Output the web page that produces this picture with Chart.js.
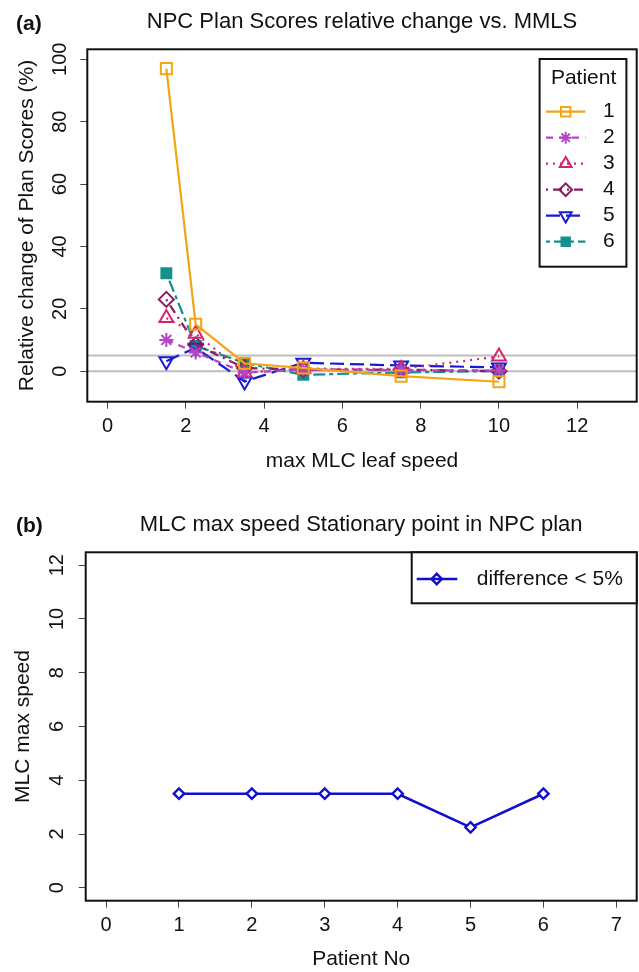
<!DOCTYPE html>
<html><head><meta charset="utf-8">
<script src="https://cdn.jsdelivr.net/npm/chart.js@4.4.1/dist/chart.umd.min.js"></script>
<style>
html,body{margin:0;padding:0;background:#fff;}
.panel{width:639px;height:486px;position:relative;}
canvas{display:block;}
</style></head><body>
<div class="panel"><canvas id="c1"></canvas></div>
<div class="panel"><canvas id="c2"></canvas></div>
<script>
// ---------- data (panel a) ----------
const maxLeafSpeed = [1.5, 2.25, 3.5, 5, 7.5, 10];
const patient1 = [97, 15, 2.5, 1, -1.6, -3.4];
const patient2 = [10, 6, -0.5, 0.5, 0.3, 0.2];
const patient3 = [17, 12, -0.5, 0.8, 0.7, 4.7];
const patient4 = [23, 8.5, 1, 0.5, 0.5, 0];
const patient5 = [3.2, 7.5, -3.3, 2.7, 1.8, 1.2];
const patient6 = [31.4, 8.1, 2.6, -1.2, -0.4, 0];
const patientNames = ['1', '2', '3', '4', '5', '6'];
const xTicksA = [0, 2, 4, 6, 8, 10, 12];
const yTicksA = [0, 20, 40, 60, 80, 100];
const refLinesA = [0, 5];
// ---------- data (panel b) ----------
const patientNo = [1, 2, 3, 4, 5, 6];
const stationarySpeed = [3.5, 3.5, 3.5, 3.5, 2.25, 3.5];
const xTicksB = [0, 1, 2, 3, 4, 5, 6, 7];
const yTicksB = [0, 2, 4, 6, 8, 10, 12];

const FONT = '"Liberation Sans", Arial, Helvetica, sans-serif';
const TXT = '#111';

const seriesA = [patient1, patient2, patient3, patient4, patient5, patient6];
const stylesA = [
  {color:'#F2A516', dash:[], pointStyle:'rect', radius:7.8, rot:0, fill:false},
  {color:'#B346C4', dash:[7,6], pointStyle:'star', radius:7, rot:0, fill:false},
  {color:'#D6246E', dash:[2,5], pointStyle:'triangle', radius:8, rot:0, fill:false},
  {color:'#8B1C62', dash:[2,5,9,5], pointStyle:'rectRot', radius:7.5, rot:0, fill:false},
  {color:'#1A1AD2', dash:[14,6], pointStyle:'triangle', radius:8, rot:180, fill:false},
  {color:'#14918D', dash:[4,4,12,4], pointStyle:'rect', radius:7, rot:0, fill:true}
];

function drawMarker(ctx, st, x, y, bw) {
  ctx.save();
  ctx.setLineDash([]);
  ctx.lineWidth = bw;
  ctx.strokeStyle = st.color;
  ctx.fillStyle = st.fill ? st.color : 'rgba(0,0,0,0)';
  Chart.helpers.drawPoint(ctx, {pointStyle: st.pointStyle, radius: st.radius, rotation: st.rot, borderWidth: bw}, x, y);
  ctx.restore();
}

const framePlugin = {
  id: 'frame',
  beforeDatasetsDraw(chart, args, o) {
    const ctx = chart.ctx, a = chart.chartArea, ys = chart.scales.y;
    ctx.save();
    ctx.strokeStyle = '#BEBEBE'; ctx.lineWidth = 2;
    (o.refLines || []).forEach(v => {
      const py = ys.getPixelForValue(v);
      ctx.beginPath(); ctx.moveTo(a.left, py); ctx.lineTo(a.right, py); ctx.stroke();
    });
    ctx.restore();
  },
  afterDraw(chart, args, o) {
    const ctx = chart.ctx, a = chart.chartArea, ys = chart.scales.y;
    ctx.save();
    ctx.strokeStyle = '#111'; ctx.lineWidth = 2;
    ctx.strokeRect(a.left, a.top, a.right - a.left, a.bottom - a.top);
    ctx.fillStyle = TXT;
    ctx.font = '20px ' + FONT;
    ctx.textAlign = 'center'; ctx.textBaseline = 'middle';
    ys.ticks.forEach(t => {
      const py = ys.getPixelForValue(t.value);
      ctx.save(); ctx.translate(a.left - o.yTickOff, py); ctx.rotate(-Math.PI/2);
      ctx.fillText(String(t.value), 0, 0); ctx.restore();
    });
    ctx.font = '21px ' + FONT;
    ctx.save(); ctx.translate(a.left - o.yTitleOff, (a.top + a.bottom)/2); ctx.rotate(-Math.PI/2);
    ctx.fillText(o.yTitle, 0, 0); ctx.restore();
    ctx.font = '22px ' + FONT;
    ctx.fillText(o.title, (a.left + a.right)/2, o.titleY);
    ctx.font = 'bold 21px ' + FONT;
    ctx.textAlign = 'left';
    ctx.fillText(o.tag, 16, o.tagY);
    if (o.legend) o.legend(chart, ctx, a);
    ctx.restore();
  }
};

function legendA(chart, ctx, a) {
  const L = a.right - 97.1, T = a.top + 9.7, W = 86.8, H = 207.7;
  ctx.fillStyle = '#fff'; ctx.fillRect(L, T, W, H);
  ctx.strokeStyle = '#111'; ctx.lineWidth = 2; ctx.strokeRect(L, T, W, H);
  ctx.fillStyle = TXT; ctx.font = '21px ' + FONT; ctx.textAlign = 'center'; ctx.textBaseline = 'middle';
  ctx.fillText('Patient', L + 44, T + 19);
  stylesA.forEach((st, i) => {
    const y = T + 52.7 + 26 * i;
    ctx.save();
    ctx.strokeStyle = st.color; ctx.lineWidth = 2.2; ctx.setLineDash(st.dash);
    ctx.beginPath(); ctx.moveTo(L + 6.4, y); ctx.lineTo(L + 45.8, y); ctx.stroke();
    ctx.restore();
    drawMarker(ctx, Object.assign({}, st, {radius: st.radius * 0.85}), L + 26.1, y, 2);
    ctx.fillStyle = TXT; ctx.textAlign = 'left';
    ctx.fillText(patientNames[i], L + 63.5, y);
  });
}

const styleB = {color:'#1010C8', pointStyle:'rectRot', radius:5.2, rot:0, fill:false};
function legendB(chart, ctx, a) {
  const L = a.right - 225, T = a.top, W = 225, H = 51;
  ctx.fillStyle = '#fff'; ctx.fillRect(L, T, W, H);
  ctx.strokeStyle = '#111'; ctx.lineWidth = 2; ctx.strokeRect(L, T, W, H);
  const y = T + 26.7;
  ctx.strokeStyle = styleB.color; ctx.lineWidth = 2.6; ctx.setLineDash([]);
  ctx.beginPath(); ctx.moveTo(L + 5, y); ctx.lineTo(L + 45.6, y); ctx.stroke();
  drawMarker(ctx, styleB, L + 25, y, 2.4);
  ctx.fillStyle = TXT; ctx.font = '21px ' + FONT; ctx.textAlign = 'left'; ctx.textBaseline = 'middle';
  ctx.fillText('difference < 5%', L + 65, y);
}

function xScale(min, max, ticks, title, h) {
  return {
    type: 'linear', position: 'bottom', min: min, max: max,
    afterBuildTicks: s => { s.ticks = ticks.map(v => ({value: v})); },
    afterFit: s => { s.height = h; },
    ticks: {color: TXT, font: {family: FONT, size: 20}, padding: 6, maxRotation: 0, autoSkip: false},
    grid: {drawOnChartArea: false, drawTicks: true, tickLength: 7, color: '#444', lineWidth: 1},
    border: {display: false},
    title: {display: true, text: title, color: TXT, font: {family: FONT, size: 21}, padding: {top: 0, bottom: 0}}
  };
}
function yScale(min, max, ticks, w) {
  return {
    type: 'linear', position: 'left', min: min, max: max,
    afterBuildTicks: s => { s.ticks = ticks.map(v => ({value: v})); },
    afterFit: s => { s.width = w; },
    ticks: {display: false},
    grid: {drawOnChartArea: false, drawTicks: true, tickLength: 7, color: '#444', lineWidth: 1},
    border: {display: false}
  };
}

new Chart(document.getElementById('c1'), {
  type: 'line',
  data: {
    datasets: seriesA.map((vals, i) => {
      const st = stylesA[i];
      return {
        label: patientNames[i],
        data: maxLeafSpeed.map((x, k) => ({x: x, y: vals[k]})),
        borderColor: st.color, borderWidth: 2.2, borderDash: st.dash, tension: 0, fill: false,
        pointStyle: st.pointStyle, pointRadius: st.radius, pointRotation: st.rot,
        pointBorderColor: st.color, pointBorderWidth: 2,
        pointBackgroundColor: st.fill ? st.color : 'rgba(0,0,0,0)'
      };
    })
  },
  options: {
    responsive: true, maintainAspectRatio: false, animation: false,
    layout: {autoPadding: false, padding: {top: 49.3, left: 0, right: 2.3, bottom: 12.4}},
    scales: {
      x: xScale(-0.52, 13.52, xTicksA, 'max MLC leaf speed', 71.9),
      y: yScale(-9.8, 103.2, yTicksA, 87.3)
    },
    plugins: {
      legend: {display: false}, tooltip: {enabled: false},
      frame: {refLines: refLinesA, yTickOff: 27, yTitleOff: 60,
              yTitle: 'Relative change of Plan Scores (%)',
              title: 'NPC Plan Scores relative change vs. MMLS', titleY: 22,
              tag: '(a)', tagY: 24, legend: legendA}
    }
  },
  plugins: [framePlugin]
});

new Chart(document.getElementById('c2'), {
  type: 'line',
  data: {
    datasets: [{
      label: 'difference < 5%',
      data: patientNo.map((x, k) => ({x: x, y: stationarySpeed[k]})),
      borderColor: styleB.color, borderWidth: 2.6, tension: 0, fill: false,
      pointStyle: styleB.pointStyle, pointRadius: styleB.radius,
      pointBorderColor: styleB.color, pointBorderWidth: 2.4,
      pointBackgroundColor: '#fff'
    }]
  },
  options: {
    responsive: true, maintainAspectRatio: false, animation: false,
    layout: {autoPadding: false, padding: {top: 66.3, left: 0, right: 2.3, bottom: 0}},
    scales: {
      x: xScale(-0.28, 7.28, xTicksB, 'Patient No', 71.3),
      y: yScale(-0.48, 12.48, yTicksB, 85.7)
    },
    plugins: {
      legend: {display: false}, tooltip: {enabled: false},
      frame: {refLines: [], yTickOff: 28, yTitleOff: 62,
              yTitle: 'MLC max speed',
              title: 'MLC max speed Stationary point in NPC plan', titleY: 39,
              tag: '(b)', tagY: 40.5, legend: legendB}
    }
  },
  plugins: [framePlugin]
});
</script>
</body></html>
